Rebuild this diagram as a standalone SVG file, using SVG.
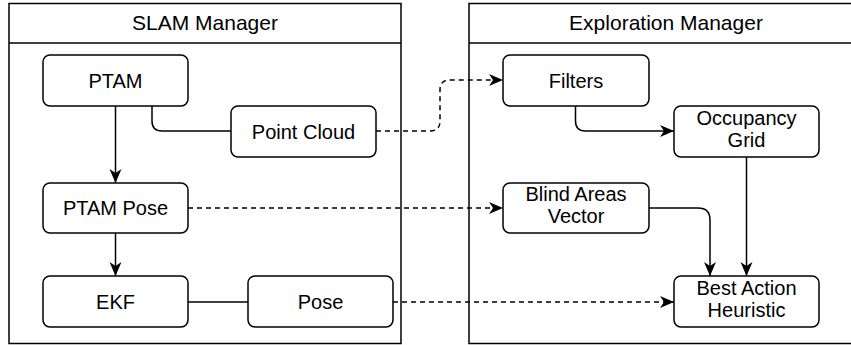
<svg xmlns="http://www.w3.org/2000/svg" width="851" height="345" viewBox="0 0 851 345">
  <style>
    .frame { fill: #ffffff; stroke: #000000; stroke-width: 1.5; }
    .node rect { fill: #ffffff; stroke: #000000; stroke-width: 1.5; }
    text { font-family: "Liberation Sans", Arial, Helvetica, sans-serif; font-size: 20px; fill: #000000; text-anchor: middle; }
    .title { font-size: 21px; }
    .edge { fill: none; stroke: #000000; stroke-width: 1.5; }
    .dashed { stroke-dasharray: 5 4; }
  </style>
  <defs>
    <marker id="arrow" markerUnits="userSpaceOnUse" markerWidth="15" markerHeight="13" refX="14" refY="6" orient="auto">
      <path d="M0,0 L14,6 L0,12 L4,6 Z" fill="#000000"/>
    </marker>
  </defs>

  <rect width="851" height="345" fill="#ffffff"/>

  <!-- containers -->
  <g id="slam-manager">
    <rect class="frame" x="9" y="3.5" width="392" height="340"/>
    <line x1="9" y1="43" x2="401" y2="43" stroke="#000000" stroke-width="1.5"/>
    <text class="title" x="205" y="29.5">SLAM Manager</text>
  </g>
  <g id="exploration-manager">
    <rect class="frame" x="469" y="3.5" width="394" height="340"/>
    <line x1="469" y1="43" x2="863" y2="43" stroke="#000000" stroke-width="1.5"/>
    <text class="title" x="666" y="29.5">Exploration Manager</text>
  </g>

  <!-- connectors -->
  <g id="connectors">
    <path class="edge" d="M115.5,106 V183" marker-end="url(#arrow)"/>
    <path class="edge" d="M115.5,233 V276" marker-end="url(#arrow)"/>
    <path class="edge" d="M152,106 V121 Q152,131 162,131 H231"/>
    <path class="edge" d="M188,302 H248"/>
    <path class="edge dashed" d="M376,131 H430 Q440,131 440,121 V90 Q440,80 450,80 H503" marker-end="url(#arrow)"/>
    <path class="edge dashed" d="M188,208 H503" marker-end="url(#arrow)"/>
    <path class="edge dashed" d="M393,302 H674" marker-end="url(#arrow)"/>
    <path class="edge" d="M575.5,106 V121 Q575.5,131 585.5,131 H674" marker-end="url(#arrow)"/>
    <path class="edge" d="M746.5,157 V276" marker-end="url(#arrow)"/>
    <path class="edge" d="M649,208 H698 Q710,208 710,220 V276" marker-end="url(#arrow)"/>
  </g>

  <!-- SLAM nodes -->
  <g id="ptam" class="node">
    <rect x="43" y="55" width="145" height="51" rx="7"/>
    <text x="115.5" y="87.5">PTAM</text>
  </g>
  <g id="point-cloud" class="node">
    <rect x="231" y="106" width="145" height="51" rx="7"/>
    <text x="303.5" y="138.5">Point Cloud</text>
  </g>
  <g id="ptam-pose" class="node">
    <rect x="43" y="183" width="145" height="50" rx="7"/>
    <text x="115.5" y="215">PTAM Pose</text>
  </g>
  <g id="ekf" class="node">
    <rect x="43" y="276" width="145" height="51" rx="7"/>
    <text x="115.5" y="309">EKF</text>
  </g>
  <g id="pose" class="node">
    <rect x="248" y="276" width="145" height="51" rx="7"/>
    <text x="320.5" y="309">Pose</text>
  </g>

  <!-- Exploration nodes -->
  <g id="filters" class="node">
    <rect x="503" y="55" width="146" height="51" rx="7"/>
    <text x="576" y="87.5">Filters</text>
  </g>
  <g id="occupancy-grid" class="node">
    <rect x="674" y="106" width="145" height="51" rx="7"/>
    <text x="746.5" y="125">Occupancy</text>
    <text x="746.5" y="146.5">Grid</text>
  </g>
  <g id="blind-areas-vector" class="node">
    <rect x="503" y="183" width="146" height="50" rx="7"/>
    <text x="576" y="201">Blind Areas</text>
    <text x="576" y="222.5">Vector</text>
  </g>
  <g id="best-action-heuristic" class="node">
    <rect x="674" y="276" width="145" height="51" rx="7"/>
    <text x="746.5" y="295">Best Action</text>
    <text x="746.5" y="316.5">Heuristic</text>
  </g>
</svg>
